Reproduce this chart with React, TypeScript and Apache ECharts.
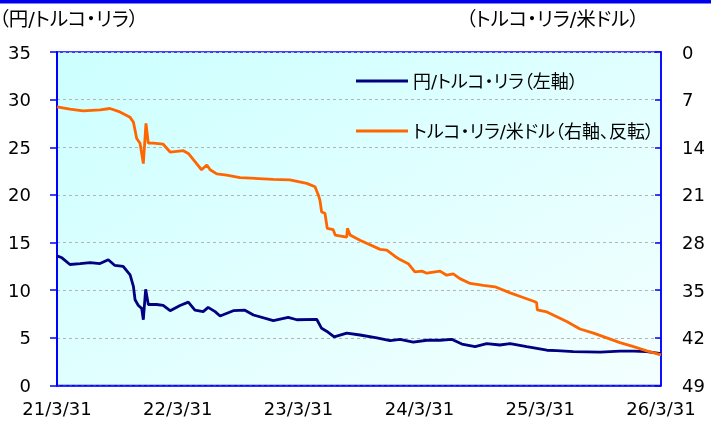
import React, { useEffect, useRef } from "react";
import * as echarts from "echarts";

// 円/トルコ・リラ (left axis)
const jpyTryDates = [
  "2021-03-31", "2021-04-15", "2021-05-09", "2021-06-09", "2021-07-09", "2021-08-08",
  "2021-09-02", "2021-09-22", "2021-10-17", "2021-11-07", "2021-11-17", "2021-11-22",
  "2021-12-02", "2021-12-12", "2021-12-17", "2021-12-24", "2022-01-01", "2022-01-26",
  "2022-02-15", "2022-03-08", "2022-04-07", "2022-05-02", "2022-05-22", "2022-06-16",
  "2022-07-01", "2022-07-22", "2022-08-06", "2022-09-15", "2022-10-20", "2022-11-15",
  "2023-01-14", "2023-02-28", "2023-03-26", "2023-05-25", "2023-06-09", "2023-06-24",
  "2023-07-17", "2023-08-24", "2023-10-03", "2023-11-23", "2024-01-02", "2024-02-01",
  "2024-03-12", "2024-04-22", "2024-06-01", "2024-07-06", "2024-08-06", "2024-09-15",
  "2024-10-20", "2024-11-29", "2024-12-30", "2025-02-18", "2025-04-20", "2025-05-20",
  "2025-07-09", "2025-09-28", "2025-11-27", "2026-01-07", "2026-02-16", "2026-03-31",
];
const jpyTryValues = [
  13.6, 13.4, 12.7, 12.8, 12.9, 12.8,
  13.2, 12.6, 12.5, 11.6, 10.4, 9.0,
  8.4, 8.1, 6.9, 10.1, 8.5, 8.5,
  8.4, 7.85, 8.4, 8.75, 7.9, 7.75,
  8.2, 7.75, 7.3, 7.85, 7.9, 7.4,
  6.8, 7.15, 6.9, 6.95, 6.0, 5.7,
  5.1, 5.5, 5.3, 5.0, 4.7, 4.85,
  4.55, 4.75, 4.75, 4.85, 4.35, 4.07,
  4.4, 4.25, 4.4, 4.07, 3.7, 3.65,
  3.55, 3.5, 3.6, 3.6, 3.55, 3.35,
];

// トルコ・リラ/米ドル (right axis, inverted)
const tryUsdDates = [
  "2021-03-31", "2021-05-09", "2021-06-18", "2021-08-08", "2021-09-07", "2021-10-07",
  "2021-11-07", "2021-11-17", "2021-11-27", "2021-12-07", "2021-12-17", "2021-12-25",
  "2022-01-01", "2022-01-16", "2022-02-15", "2022-03-08", "2022-04-17", "2022-05-02",
  "2022-05-27", "2022-06-11", "2022-06-27", "2022-07-07", "2022-07-27", "2022-08-26",
  "2022-10-05", "2023-01-14", "2023-03-05", "2023-04-25", "2023-05-20", "2023-05-30",
  "2023-06-04", "2023-06-09", "2023-06-19", "2023-06-26", "2023-07-14", "2023-07-20",
  "2023-08-24", "2023-08-26", "2023-09-03", "2023-10-03", "2023-10-23", "2023-12-03",
  "2023-12-23", "2024-01-22", "2024-02-01", "2024-02-26", "2024-03-17", "2024-04-07",
  "2024-04-22", "2024-06-01", "2024-06-21", "2024-07-11", "2024-07-31", "2024-08-31",
  "2024-10-10", "2024-11-14", "2024-12-30", "2025-02-03", "2025-03-15", "2025-03-20",
  "2025-03-22", "2025-04-20", "2025-05-20", "2025-06-19", "2025-07-29", "2025-09-08",
  "2025-10-18", "2025-11-27", "2026-01-07", "2026-02-16", "2026-03-31",
];
const tryUsdValues = [
  8.05, 8.4, 8.66, 8.5, 8.3, 8.8,
  9.6, 10.3, 12.7, 13.4, 16.4, 10.5,
  13.4, 13.4, 13.55, 14.7, 14.5, 14.9,
  16.4, 17.3, 16.6, 17.3, 17.9, 18.1,
  18.45, 18.7, 18.8, 19.3, 19.8, 21.0,
  21.8, 23.5, 23.7, 25.9, 26.1, 26.9,
  27.2, 25.9, 26.9, 27.65, 28.1, 29.0,
  29.1, 30.2, 30.5, 31.1, 32.3, 32.2,
  32.5, 32.2, 32.8, 32.6, 33.3, 34.0,
  34.3, 34.5, 35.4, 36.0, 36.7, 36.85,
  37.9, 38.2, 38.9, 39.6, 40.7, 41.3,
  42.0, 42.7, 43.3, 43.9, 44.5,
];

const xTickDates = ["2021-03-31", "2022-03-31", "2023-03-31", "2024-03-31", "2025-03-31", "2026-03-31"];
const seriesNames = ["円/トルコ・リラ（左軸）", "トルコ・リラ/米ドル（右軸、反転）"];
const leftUnit = "（円/トルコ・リラ）";
const rightUnit = "（トルコ・リラ/米ドル）";

function toTs(s: string): number {
  const [y, m, d] = s.split("-").map(Number);
  return Date.UTC(y, m - 1, d);
}

export default function App() {
  const ref = useRef<HTMLDivElement>(null);
  useEffect(() => {
    const chart = echarts.init(ref.current!, null, { renderer: "svg" });
    const font = "'DejaVu Sans', 'Noto Sans CJK JP', sans-serif";
    const blue = "#0000ff";
    chart.setOption({
      animation: false,
      textStyle: { fontFamily: font },
      grid: {
        left: 57,
        right: 52,
        top: 52,
        bottom: 39.5,
        show: true,
        borderColor: blue,
        borderWidth: 1.5,
        backgroundColor: new echarts.graphic.LinearGradient(0, 0, 1, 1, [
          { offset: 0, color: "#ccffff" },
          { offset: 1, color: "#f4ffff" },
        ]),
      },
      graphic: [
        { type: "rect", left: 0, top: 0, shape: { width: 711, height: 3.5 }, style: { fill: "#0000ee" } },
        { type: "text", left: -1, top: 10, style: { text: leftUnit, fill: "#000", fontSize: 19.5, fontFamily: font } },
        { type: "text", left: 466, top: 10, style: { text: rightUnit, fill: "#000", fontSize: 19.5, fontFamily: font } },
      ],
      legend: {
        orient: "vertical",
        left: 351,
        top: 66,
        icon: "rect",
        itemWidth: 52,
        itemHeight: 3,
        itemGap: 30,
        data: seriesNames,
        textStyle: { fontSize: 18, color: "#000", fontFamily: font, lineHeight: 20 },
      },
      xAxis: {
        type: "value",
        min: toTs(xTickDates[0]),
        max: toTs(xTickDates[xTickDates.length - 1]),
        axisLine: { show: true, lineStyle: { color: blue, width: 1.5 } },
        axisTick: { show: false },
        splitLine: { show: false },
        axisLabel: {
          customValues: xTickDates.map(toTs),
          formatter: (v: number) => {
            const d = new Date(v);
            return `${String(d.getUTCFullYear()).slice(2)}/${d.getUTCMonth() + 1}/${d.getUTCDate()}`;
          },
          fontSize: 18,
          color: "#000",
          margin: 14,
          hideOverlap: false,
          showMinLabel: true,
          showMaxLabel: true,
        },
      },
      yAxis: [
        {
          type: "value",
          min: 0,
          max: 35,
          interval: 5,
          position: "left",
          axisLine: { show: true, lineStyle: { color: blue, width: 2 } },
          axisTick: { show: true, inside: false, length: 7, lineStyle: { color: blue, width: 1.5 } },
          axisLabel: { fontSize: 18, color: "#000", margin: 26 },
          splitLine: { show: true, lineStyle: { color: "#b4b4b4", type: [3, 3], width: 1 } },
        },
        {
          type: "value",
          min: 0,
          max: 49,
          interval: 7,
          inverse: true,
          position: "right",
          axisLine: { show: true, lineStyle: { color: blue, width: 1.5 } },
          axisTick: { show: true, inside: true, length: 6, lineStyle: { color: blue, width: 1.5 } },
          axisLabel: { fontSize: 18, color: "#000", margin: 21 },
          splitLine: { show: false },
        },
      ],
      series: [
        {
          name: seriesNames[0],
          type: "line",
          yAxisIndex: 0,
          symbol: "none",
          showSymbol: false,
          lineStyle: { color: "#000080", width: 2.8 },
          itemStyle: { color: "#000080" },
          data: jpyTryDates.map((d, i) => [toTs(d), jpyTryValues[i]]),
        },
        {
          name: seriesNames[1],
          type: "line",
          yAxisIndex: 1,
          symbol: "none",
          showSymbol: false,
          lineStyle: { color: "#ff6600", width: 2.8 },
          itemStyle: { color: "#ff6600" },
          data: tryUsdDates.map((d, i) => [toTs(d), tryUsdValues[i]]),
        },
      ],
    });
    return () => chart.dispose();
  }, []);
  return (
    <>
      <style>{`#root svg text { font-feature-settings: "palt" 1 !important; }`}</style>
      <div ref={ref} style={{ position: "fixed", left: 0, top: 0, width: 713, height: 425 }} />
    </>
  );
}
